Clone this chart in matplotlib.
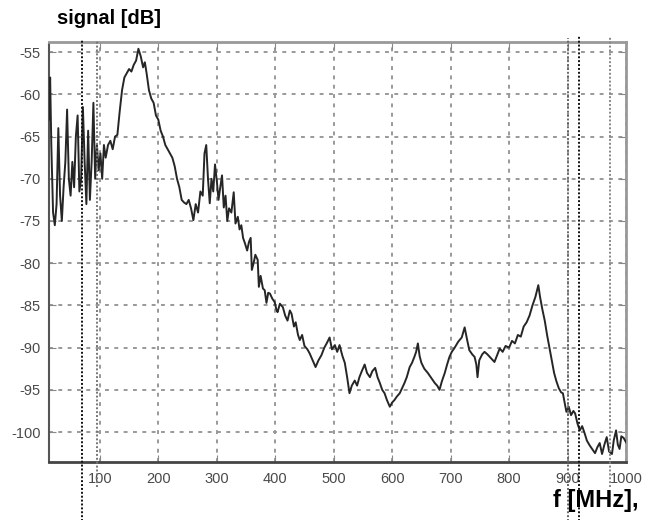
#!/usr/bin/python3

import matplotlib
matplotlib.use('Agg')
import matplotlib.pyplot as plt
import matplotlib.transforms as mtransforms

# measured spectrum: frequency in MHz and level in dB
freq = [13, 15, 17, 20, 23, 26, 29, 32, 35, 38, 41, 44, 47, 50, 53, 56, 59, 62, 65, 68,
        71, 74, 77, 80, 83, 86, 89, 92, 95, 98, 101, 104, 107, 110, 114, 118, 122, 126, 130, 134,
        138, 142, 146, 150, 154, 158, 162, 166, 170, 174, 177, 180, 184, 188, 192, 196, 200, 204, 208, 212,
        216, 220, 224, 228, 232, 236, 240, 244, 248, 252, 256, 260, 264, 268, 272, 276, 279, 282, 285, 288,
        291, 294, 297, 300, 303, 306, 309, 312, 315, 318, 321, 325, 329, 332, 336, 339, 342, 345, 348, 352,
        355, 358, 360, 363, 366, 370, 372, 375, 379, 382, 385, 388, 391, 395, 399, 402, 404, 408, 413, 417,
        421, 425, 428, 432, 435, 439, 442, 446, 450, 455, 459, 464, 469, 474, 479, 484, 488, 493, 497, 502,
        506, 510, 515, 519, 523, 527, 531, 536, 540, 544, 548, 553, 557, 562, 566, 571, 575, 579, 583, 587,
        591, 596, 600, 604, 608, 613, 617, 621, 625, 630, 634, 638, 641, 644, 647, 650, 655, 661, 667, 673,
        677, 681, 685, 690, 694, 698, 702, 707, 713, 719, 724, 728, 732, 737, 741, 744, 746, 749, 754, 758,
        763, 767, 771, 775, 780, 784, 789, 794, 800, 805, 810, 815, 820, 825, 830, 835, 840, 845, 850, 853,
        857, 861, 865, 869, 873, 877, 881, 885, 889, 892, 895, 898, 902, 906, 910, 913, 917, 921, 925, 929,
        933, 938, 942, 947, 951, 955, 959, 963, 967, 971, 976, 979, 983, 986, 989, 992, 996, 1000]

level = [-63, -58, -66, -74, -75.5, -73, -64, -72, -75, -71, -68, -61.8, -70, -72, -68, -71, -65, -62.5, -71.5, -70,
         -61.5, -68, -73, -64.3, -72.5, -68, -61, -70, -66, -69, -67, -70, -66, -67.5, -66, -65.5, -66.5, -65, -64.8, -62,
         -59.5, -58, -57.5, -57, -57.3, -56.5, -56, -54.6, -55.5, -56.8, -56.2, -57.5, -59.5, -60.5, -61, -62.5, -63, -64.3, -65, -66,
         -66.5, -67, -67.5, -68.5, -70, -71, -72.5, -72.8, -73, -72.5, -73.5, -74.9, -73, -74, -71.5, -72, -67, -66, -70, -72.9,
         -70, -71.5, -68.3, -70.2, -72.5, -71, -69.6, -73.4, -72, -75, -73.5, -74, -71.6, -75.3, -74.5, -76, -75.5, -77, -77.6, -78.5,
         -77.5, -77, -80.8, -80, -79, -79.6, -82.8, -81.5, -83, -83.2, -84.7, -83.5, -83.6, -84.2, -84.6, -85.5, -85.8, -84.8, -85.2, -86.2,
         -86.8, -85.6, -86, -87.5, -87, -88.5, -89.1, -88.5, -89.8, -90.2, -90.7, -91.5, -92.3, -91.5, -90.9, -90, -89.5, -88.8, -90.2, -89.7,
         -90.5, -89.7, -91, -91.8, -93.5, -95.4, -94.5, -93.9, -94.5, -93.5, -92.8, -92, -93, -93.5, -92.8, -92.4, -93.5, -94.2, -95, -95.4,
         -96.2, -97, -96.5, -96.2, -95.8, -95.4, -94.8, -94.2, -93.5, -92.3, -91.8, -91.1, -90.5, -89.5, -91, -91.8, -92.5, -93, -93.6, -94.2,
         -94.5, -95, -94, -93, -92, -91.1, -90.5, -90, -89.3, -88.8, -87.6, -89, -90.3, -90.8, -91.1, -92, -93.5, -91.5, -90.8, -90.5,
         -90.8, -91.1, -91.4, -91.7, -90.8, -90.1, -90.5, -89.8, -90, -89.2, -89.5, -88.5, -88.7, -87.5, -87, -86.2, -85, -84, -82.6, -84,
         -85.5, -86.8, -88.5, -90, -91.5, -93, -94, -94.8, -95.3, -95.4, -96.5, -97.6, -97, -98, -97.5, -97.8, -99, -99.8, -99.3, -100.1,
         -101, -101.6, -102, -102.5, -101.8, -101.3, -102.6, -101.5, -100.6, -102.3, -102.6, -101, -99.8, -101.5, -102, -100.5, -100.7, -101.2]

x_ticks = [100, 200, 300, 400, 500, 600, 700, 800, 900, 1000]
y_ticks = [-55, -60, -65, -70, -75, -80, -85, -90, -95, -100]

# dotted marker lines: frequency, lower and upper end (axes fraction), colour
markers = [(69, -0.14, 1.005, '#111111'),
           (95, -0.06, 1.005, '#777777'),
           (900, -0.14, 1.01, '#666666'),
           (919, -0.14, 1.017, '#111111'),
           (973, -0.06, 1.012, '#888888')]


def plotter():
    plt.rcParams['font.family'] = ['Liberation Sans', 'DejaVu Sans']
    plt.rcParams['axes.unicode_minus'] = False

    fig = plt.figure(figsize=(6.6, 5.2), dpi=100)
    ax = fig.add_axes([0.0742, 0.1115, 0.8743, 0.8077])

    ax.plot(freq, level, color='#262626', linewidth=1.4, zorder=3)

    ax.set_xlim(13, 1000)
    ax.set_ylim(-103.55, -53.8)
    ax.set_xticks(x_ticks)
    ax.set_yticks(y_ticks)

    ax.grid(True, color='#999999', linestyle=(0, (2, 2.8)), linewidth=1.4)
    ax.tick_params(axis='both', which='both', direction='in', length=5,
                   color='#888888', labelsize=10.5, labelcolor='#4a4a4a',
                   top=True, right=True)
    ax.tick_params(axis='x', pad=7)
    ax.tick_params(axis='y', pad=6)

    for side in ['top', 'right']:
        ax.spines[side].set_color('#999999')
        ax.spines[side].set_linewidth(2)
    ax.spines['bottom'].set_color('#444444')
    ax.spines['bottom'].set_linewidth(2)
    ax.spines['left'].set_color('#555555')
    ax.spines['left'].set_linestyle((0, (1, 1)))
    ax.spines['left'].set_linewidth(1.5)

    trans = mtransforms.blended_transform_factory(ax.transData, ax.transAxes)
    for f, y0, y1, col in markers:
        ax.plot([f, f], [y0, y1], transform=trans, color=col, linestyle=(0, (1, 1)),
                linewidth=1.4, clip_on=False, zorder=4)

    fig.text(0.087, 0.965, 'signal [dB]', fontsize=14.5, fontweight='bold', va='center', ha='left')
    fig.text(0.838, 0.038, 'f [MHz],', fontsize=17, fontweight='bold', va='center', ha='left')

    fig.savefig('out.png', dpi=100, facecolor='white')


def main():
    plotter()


main()
